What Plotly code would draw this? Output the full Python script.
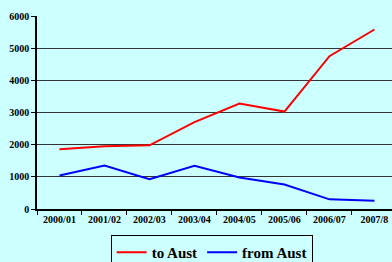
import plotly.graph_objects as go

years = ["2000/01", "2001/02", "2002/03", "2003/04", "2004/05", "2005/06", "2006/07", "2007/8"]
to_aust = [1860, 1950, 1980, 2700, 3280, 3030, 4750, 5580]
from_aust = [1040, 1350, 930, 1340, 980, 760, 300, 260]

fig = go.Figure()
fig.add_trace(go.Scatter(x=years, y=to_aust, mode="lines", name="<b>to Aust</b>",
                         line=dict(color="#FF0000", width=2)))
fig.add_trace(go.Scatter(x=years, y=from_aust, mode="lines", name="<b>from Aust</b>",
                         line=dict(color="#0000FF", width=2)))

font = "Liberation Serif, Times New Roman, serif"
fig.update_layout(
    width=392, height=262,
    paper_bgcolor="#CCFFFF", plot_bgcolor="#CCFFFF",
    margin=dict(l=37, r=0, t=16, b=53),
    showlegend=True,
    legend=dict(orientation="h", xref="container", yref="container",
                x=0.54, xanchor="center", y=1 - 235 / 262, yanchor="top",
                bordercolor="#000000", borderwidth=1, bgcolor="#CCFFFF",
                font=dict(family=font, size=15, color="#000000"),
                itemwidth=30, tracegroupgap=0),
    xaxis=dict(type="category", range=[-0.5, 7.39], showgrid=False, automargin=False,
               showline=True, linecolor="#000000", linewidth=1.5,
               ticks="outside", tickson="boundaries", ticklen=4, tickcolor="#000000",
               tickprefix="<b>", ticksuffix="</b>",
               tickfont=dict(family=font, size=10, color="#000000"),
               fixedrange=True),
    yaxis=dict(range=[0, 6000], dtick=1000, showgrid=True, gridcolor="#333333", gridwidth=1,
               showline=True, linecolor="#000000", linewidth=1.5, automargin=False,
               ticks="outside", ticklen=4, tickcolor="#000000",
               tickprefix="<b>", ticksuffix="</b>",
               tickfont=dict(family=font, size=10, color="#000000"),
               zeroline=False, fixedrange=True),
)

fig.write_html(
    "out.html",
    post_script="document.body.style.margin='0';document.body.style.background='#CCFFFF';"
                "document.body.style.overflow='hidden';",
    config={"displayModeBar": False},
)
